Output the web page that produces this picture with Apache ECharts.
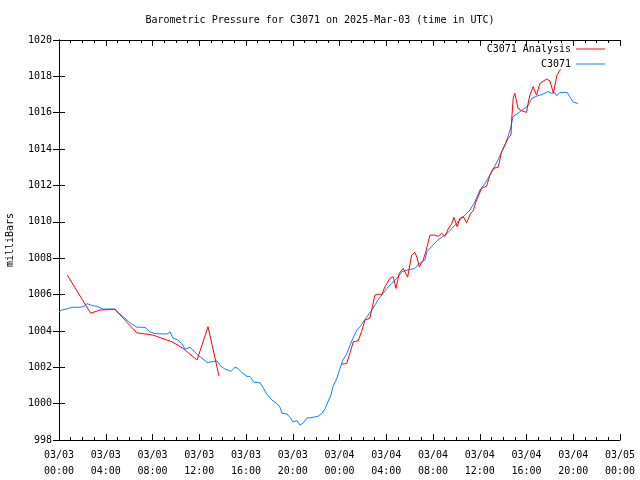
<!DOCTYPE html>
<html><head><meta charset="utf-8">
<script src="https://cdn.jsdelivr.net/npm/echarts@6/dist/echarts.min.js"></script>
<style>html,body{margin:0;padding:0;background:#fff}#c{width:640px;height:480px}</style>
</head><body><div id="c"></div>
<script>
const chartTitle = 'Barometric Pressure for C3071 on 2025-Mar-03 (time in UTC)';
const yAxisName = 'milliBars';
const seriesNames = ['C3071 Analysis', 'C3071'];
// hours since 2025-03-03 00:00 UTC
const stationHours = [0.00,0.26,0.60,1.11,1.80,2.14,2.40,2.82,3.25,3.76,4.36,4.79,4.96,5.56,6.07,6.67,7.36,7.78,8.21,9.07,9.32,9.50,9.75,10.18,10.52,10.78,11.21,11.46,11.81,12.23,12.66,13.09,13.52,13.77,14.20,14.71,15.06,15.31,15.65,16.08,16.34,16.68,17.19,17.45,17.79,18.22,18.65,18.91,19.08,19.50,19.76,20.02,20.36,20.62,20.87,21.21,21.73,22.16,22.50,22.75,23.01,23.27,23.44,23.78,24.04,24.29,24.64,24.89,25.15,25.49,25.75,26.35,26.78,27.29,27.63,28.06,28.49,28.91,29.34,29.86,30.45,30.88,31.31,31.48,31.99,32.42,32.85,33.28,33.70,34.30,34.73,35.16,35.59,36.01,36.44,36.87,37.13,37.55,37.90,38.15,38.41,38.67,38.84,39.18,39.44,39.86,40.12,40.46,40.89,41.32,41.57,41.83,42.17,42.43,42.60,42.86,43.46,43.71,43.97,44.31,44.40];
const stationValues = [1005.05,1005.15,1005.2,1005.3,1005.3,1005.35,1005.5,1005.4,1005.35,1005.2,1005.2,1005.2,1005.05,1004.75,1004.45,1004.2,1004.2,1003.95,1003.85,1003.83,1003.85,1003.95,1003.6,1003.5,1003.3,1003.0,1003.1,1002.95,1002.7,1002.5,1002.27,1002.3,1002.35,1002.1,1001.9,1001.78,1002.0,1001.94,1001.7,1001.5,1001.5,1001.17,1001.15,1000.9,1000.5,1000.2,1000.0,999.8,999.47,999.43,999.25,999.0,999.06,998.82,998.92,999.2,999.25,999.3,999.47,999.7,1000.1,1000.47,1000.93,1001.4,1001.94,1002.4,1002.77,1003.2,1003.6,1004.05,1004.23,1004.78,1005.15,1005.7,1005.97,1006.34,1006.62,1006.9,1007.26,1007.35,1007.44,1007.72,1007.9,1008.36,1008.72,1009.0,1009.2,1009.4,1009.7,1010.1,1010.37,1010.65,1011.1,1011.75,1012.1,1012.57,1012.85,1013.4,1013.86,1014.22,1014.68,1015.23,1015.78,1015.93,1016.06,1016.24,1016.39,1016.79,1016.92,1017.0,1017.07,1017.16,1017.07,1017.1,1016.94,1017.12,1017.12,1016.88,1016.6,1016.52,1016.5];
const analysisHoursA = [0.71,2.71,3.51,4.79,6.65,8.04,9.67,10.61,11.81,12.75,13.69];
const analysisValuesA = [1007.07,1004.97,1005.15,1005.19,1003.9,1003.77,1003.4,1003.04,1002.4,1004.23,1001.52];
const analysisHoursB = [24.18,24.61,24.89,25.18,25.60,25.89,26.18,26.60,27.03,27.31,27.60,27.89,28.31,28.60,28.83,29.11,29.45,29.83,30.17,30.45,30.65,30.82,31.16,31.39,31.74,32.16,32.45,32.74,33.02,33.30,33.59,33.79,34.07,34.30,34.59,34.88,35.22,35.44,35.67,36.16,36.59,36.87,37.15,37.58,37.87,38.15,38.43,38.67,38.73,38.86,39.00,39.28,39.57,40.01,40.14,40.29,40.57,40.86,41.14,41.70,42.00,42.30,42.60,42.84,42.94];
const analysisValuesB = [1002.18,1002.2,1002.77,1003.4,1003.46,1003.96,1004.6,1004.7,1005.97,1006.03,1005.97,1006.43,1006.9,1006.98,1006.34,1007.17,1007.44,1006.95,1008.17,1008.32,1008.0,1007.53,1007.9,1008.36,1009.27,1009.27,1009.2,1009.37,1009.2,1009.6,1009.88,1010.25,1009.73,1010.19,1010.28,1009.95,1010.47,1010.6,1011.1,1011.84,1011.97,1012.57,1012.94,1013.0,1013.86,1014.22,1014.59,1014.78,1015.6,1016.79,1017.07,1016.24,1016.11,1016.02,1016.52,1016.97,1017.43,1016.97,1017.6,1017.85,1017.76,1017.08,1018.05,1018.34,1018.35];

const FONT = 'DejaVu Sans Mono';
const pad = n => (n < 10 ? '0' : '') + n;
const zip = (a, b) => a.map((x, i) => [x, b[i]]);
const fmtX = h => { const d = 3 + Math.floor(h / 24); return '03/' + pad(d) + '\n' + pad(h % 24) + ':00'; };

const chart = echarts.init(document.getElementById('c'), null, {renderer: 'canvas'});
const axisCommon = {
  type: 'value', splitLine: {show: false},
  axisLine: {show: true, lineStyle: {color: '#000', width: 1}},
  axisTick: {show: true, inside: true, length: 6, lineStyle: {color: '#000'}},
};
chart.setOption({
  animation: false,
  backgroundColor: '#fff',
  title: {text: chartTitle, left: 'center', top: 10, textStyle: {fontFamily: FONT, fontSize: 10, fontWeight: 'normal', color: '#000'}},
  grid: {left: 59, right: 20, top: 40, bottom: 40, containLabel: false, outerBoundsMode: 'none'},
  legend: {
    orient: 'vertical', right: 30, top: 38, align: 'right', itemWidth: 29, itemHeight: 1, itemGap: 3,
    icon: 'rect',
    data: seriesNames, textStyle: {fontFamily: FONT, fontSize: 10, color: '#000', lineHeight: 12}
  },
  xAxis: [
    Object.assign({}, axisCommon, {min: 0, max: 48, interval: 4, position: 'bottom',
      minorTick: {show: true, splitNumber: 4, length: 3, lineStyle: {color: '#000'}},
      axisLabel: {formatter: fmtX, fontFamily: FONT, fontSize: 10, color: '#000', margin: 7, lineHeight: 16}}),
    Object.assign({}, axisCommon, {min: 0, max: 48, interval: 4, position: 'top',
      minorTick: {show: true, splitNumber: 4, length: 3, lineStyle: {color: '#000'}},
      axisLabel: {show: false}})
  ],
  yAxis: [
    Object.assign({}, axisCommon, {min: 998, max: 1020, interval: 2, position: 'left',
      name: yAxisName, nameLocation: 'middle', nameRotate: 90, nameGap: 44,
      nameTextStyle: {fontFamily: FONT, fontSize: 10, color: '#000'},
      axisLabel: {formatter: v => String(v), fontFamily: FONT, fontSize: 10, color: '#000', margin: 7}}),
    Object.assign({}, axisCommon, {min: 998, max: 1020, interval: 2, position: 'right', axisLabel: {show: false}})
  ],
  series: [
    {name: seriesNames[0], type: 'line', data: zip(analysisHoursA, analysisValuesA), symbol: 'none', lineStyle: {color: '#ff0000', width: 1}, itemStyle: {color: '#ff0000'}, z: 3},
    {name: seriesNames[0], type: 'line', data: zip(analysisHoursB, analysisValuesB), symbol: 'none', lineStyle: {color: '#ff0000', width: 1}, itemStyle: {color: '#ff0000'}, z: 3},
    {name: seriesNames[1], type: 'line', data: zip(stationHours, stationValues), symbol: 'none', lineStyle: {color: '#0a84ff', width: 1}, itemStyle: {color: '#0a84ff'}, z: 2}
  ]
});
</script></body></html>
